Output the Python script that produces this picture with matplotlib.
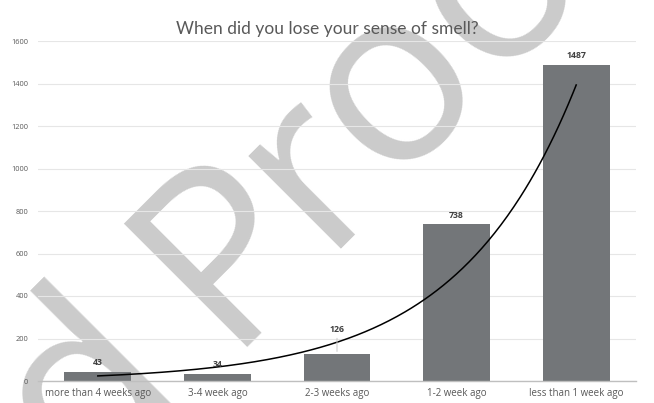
import numpy as np
import matplotlib
matplotlib.use("Agg")
import matplotlib.pyplot as plt

# Survey responses
categories = ["more than 4 weeks ago", "3-4 week ago", "2-3 weeks ago",
              "1-2 week ago", "less than 1 week ago"]
counts = [43, 34, 126, 738, 1487]
y_ticks = [0, 200, 400, 600, 800, 1000, 1200, 1400, 1600]

W, H = 654, 403
fig = plt.figure(figsize=(W / 100, H / 100), dpi=100, facecolor="white")
ax = fig.add_axes([38 / W, 1 - 381 / H, (636 - 38) / W, (381 - 41) / H])

x = np.arange(len(categories))
ax.bar(x, counts, width=0.56, color="#737679", zorder=2)

# Exponential trendline fitted to the counts
coef = np.polyfit(x, np.log(counts), 1)
xs = np.linspace(x[0], x[-1], 300)
ax.plot(xs, np.exp(np.polyval(coef, xs)), color="black", lw=1.1, zorder=3)

# Value labels
for xi, v in zip(x, counts):
    off = 18 if v == 126 else 6.5
    ax.annotate(str(v), (xi, v), xytext=(0, off), textcoords="offset points",
                ha="center", va="center", fontsize=6.3, fontweight="bold",
                color="#404040", family="Open Sans", zorder=4)
    if v == 126:
        ax.annotate("", xy=(xi, v), xytext=(0, off - 4.5),
                    textcoords="offset points", xycoords="data",
                    arrowprops=dict(arrowstyle="-", color="#c8c8c8", lw=0.7),
                    zorder=4)

ax.set_xlim(-0.5, len(categories) - 0.5)
ax.set_ylim(0, 1600)
ax.set_yticks(y_ticks)
ax.set_yticklabels([str(t) for t in y_ticks], fontsize=5.3, color="#595959",
                   family="Open Sans")
ax.set_xticks(x)
ax.set_xticklabels(categories, fontsize=7, color="#595959", family="Open Sans")
ax.tick_params(axis="both", length=0)
ax.tick_params(axis="y", pad=7)
ax.tick_params(axis="x", pad=5)
ax.grid(axis="y", color="#e6e6e6", lw=0.8)
ax.set_axisbelow("line")
for s in ["top", "right", "left"]:
    ax.spines[s].set_visible(False)
ax.spines["bottom"].set_color("#bfbfbf")
ax.spines["bottom"].set_linewidth(1.0)
ax.spines["bottom"].set_zorder(2.5)

fig.text(0.5, 1 - 29 / H, "When did you lose your sense of smell?",
         ha="center", va="center", fontsize=12.5, color="#595959",
         family="Lato", zorder=5)

# Watermark across the page, under the gridlines and bars:
# letters set one by one along a 45 degree baseline (pixel offsets)
wm = dict(fontsize=176, color="#cbcbcb", family="Open Sans", rotation=45,
          rotation_mode="anchor", ha="left", va="baseline",
          transform=fig.transFigure, clip_on=False, zorder=1)
origin = np.array([223.0, 347.0])
direction = np.array([np.sqrt(0.5), -np.sqrt(0.5)])
for ch, u in [("d", -201), ("P", 0), ("r", 138), ("o", 232), ("o", 378)]:
    px, py = origin + u * direction
    ax.text(px / W, 1 - py / H, ch, **wm)

fig.savefig("out.png", dpi=100, facecolor="white")
